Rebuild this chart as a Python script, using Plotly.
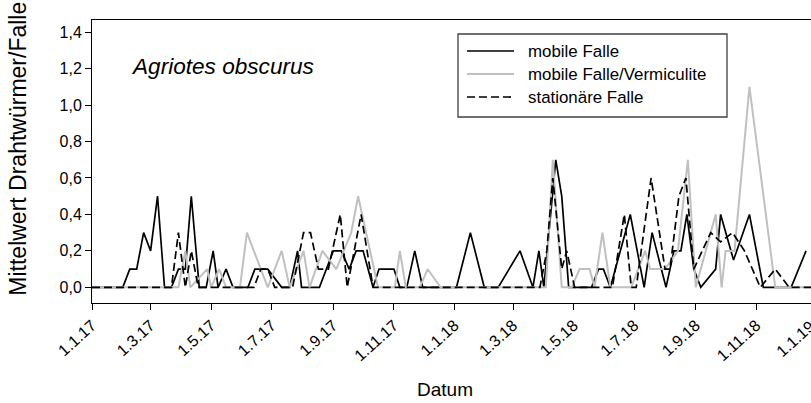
import plotly.graph_objects as go

# ---- data ----
mobile_dates = ["2017-01-01", "2017-02-01", "2017-02-08", "2017-02-15", "2017-02-22", "2017-03-01",
                "2017-03-08", "2017-03-15", "2017-03-22", "2017-03-29", "2017-04-05", "2017-04-11",
                "2017-04-19", "2017-04-26", "2017-05-03", "2017-05-08", "2017-05-16", "2017-05-23",
                "2017-06-07", "2017-06-14", "2017-06-27", "2017-07-11", "2017-07-19", "2017-07-27",
                "2017-07-31", "2017-08-18", "2017-09-01", "2017-09-09", "2017-09-17", "2017-09-24",
                "2017-10-01", "2017-10-11", "2017-10-17", "2017-11-01", "2017-11-07", "2017-11-14",
                "2017-11-22", "2017-11-30", "2018-01-03", "2018-01-17", "2018-01-31", "2018-02-14",
                "2018-03-08", "2018-03-21", "2018-03-27", "2018-04-01", "2018-04-13", "2018-04-19",
                "2018-04-26", "2018-05-19", "2018-05-26", "2018-05-31", "2018-06-07", "2018-06-27",
                "2018-07-11", "2018-07-19", "2018-08-02", "2018-08-10", "2018-08-17", "2018-08-23",
                "2018-08-30", "2018-09-06", "2018-09-21", "2018-09-26", "2018-10-09", "2018-10-25",
                "2018-11-08", "2018-12-06", "2018-12-21"]
mobile_vals = [0, 0, 0.1, 0.1, 0.3, 0.2,
               0.5, 0, 0, 0.1, 0.1, 0.5,
               0, 0, 0.2, 0, 0.1, 0,
               0, 0.1, 0.1, 0, 0, 0.2,
               0, 0, 0.2, 0.2, 0.1, 0.2,
               0.2, 0, 0.1, 0.1, 0, 0,
               0.2, 0, 0, 0.3, 0, 0,
               0.2, 0, 0.2, 0, 0.7, 0.5,
               0, 0, 0.1, 0.1, 0, 0.4,
               0, 0.3, 0, 0.2, 0.2, 0.4,
               0.1, 0, 0.1, 0.4, 0.15, 0.4,
               0, 0, 0.2]

verm_dates = ["2017-01-01", "2017-03-29", "2017-04-05", "2017-04-10", "2017-04-27", "2017-05-01",
              "2017-05-09", "2017-05-16", "2017-05-30", "2017-06-06", "2017-06-27", "2017-07-11",
              "2017-07-19", "2017-08-02", "2017-08-08", "2017-08-21", "2017-09-04", "2017-09-19",
              "2017-09-26", "2017-10-16", "2017-11-02", "2017-11-07", "2017-11-13", "2017-11-27",
              "2017-12-05", "2017-12-18", "2018-04-03", "2018-04-10", "2018-04-19", "2018-04-29",
              "2018-05-07", "2018-05-17", "2018-05-22", "2018-05-30", "2018-06-07", "2018-06-28",
              "2018-07-12", "2018-07-17", "2018-08-01", "2018-08-14", "2018-08-24", "2018-09-01",
              "2018-09-21", "2018-09-27", "2018-10-01", "2018-10-10", "2018-10-25", "2018-11-20",
              "2018-12-26"]
verm_vals = [0, 0, 0.2, 0, 0.1, 0,
             0.1, 0, 0, 0.3, 0, 0.2,
             0, 0.2, 0, 0.2, 0.1, 0.3,
             0.5, 0, 0, 0.2, 0, 0,
             0.1, 0, 0, 0.7, 0, 0,
             0.1, 0.1, 0, 0.3, 0, 0,
             0.2, 0.1, 0.1, 0.2, 0.7, 0,
             0.4, 0, 0.2, 0.2, 1.1, 0,
             0]

stat_dates = ["2017-01-01", "2017-03-22", "2017-03-29", "2017-04-05", "2017-04-11", "2017-04-18",
              "2017-06-13", "2017-06-20", "2017-06-27", "2017-07-04", "2017-07-22", "2017-08-02",
              "2017-08-09", "2017-08-17", "2017-08-27", "2017-09-08", "2017-09-15", "2017-09-29",
              "2017-10-11", "2018-03-28", "2018-04-04", "2018-04-10", "2018-04-19", "2018-04-24",
              "2018-05-02", "2018-06-09", "2018-06-21", "2018-06-28", "2018-07-03", "2018-07-18",
              "2018-08-01", "2018-08-06", "2018-08-15", "2018-08-22", "2018-08-30", "2018-09-16",
              "2018-09-26", "2018-10-08", "2018-10-20", "2018-11-05", "2018-11-20", "2018-12-04",
              "2018-12-26"]
stat_vals = [0, 0, 0.3, 0, 0.2, 0,
             0, 0.1, 0.1, 0, 0, 0.3,
             0.3, 0.1, 0.1, 0.4, 0, 0.4,
             0, 0, 0.2, 0.6, 0.1, 0.2,
             0, 0, 0.4, 0, 0, 0.6,
             0.1, 0.1, 0.5, 0.6, 0.1, 0.3,
             0.25, 0.3, 0.2, 0, 0.1, 0,
             0]

series_names = ["mobile Falle", "mobile Falle/Vermiculite", "stationäre Falle"]

tick_dates = ["2017-01-01", "2017-03-01", "2017-05-01", "2017-07-01", "2017-09-01", "2017-11-01",
              "2018-01-01", "2018-03-01", "2018-05-01", "2018-07-01", "2018-09-01", "2018-11-01"]
tick_labels = ["1.1.17", "1.3.17", "1.5.17", "1.7.17", "1.9.17", "1.11.17",
               "1.1.18", "1.3.18", "1.5.18", "1.7.18", "1.9.18", "1.11.18"]
last_tick_label = "1.1.19"
y_ticks = [0, 0.2, 0.4, 0.6, 0.8, 1.0, 1.2, 1.4]

FONT = "Arial, 'Liberation Sans', sans-serif"
W, H = 811, 403
ML, MR, MT, MB = 92, 0, 20, 100
PW, PH = W - ML - MR, H - MT - MB


def px(x):
    return (x - ML) / PW


def py(y):
    return (H - MB - y) / PH


styles = [dict(color="black", width=1.7),
          dict(color="#c0c0c0", width=2),
          dict(color="black", width=1.7, dash="8px,4px")]

fig = go.Figure()
for name, xs, ys, st in zip(series_names, [mobile_dates, verm_dates, stat_dates],
                            [mobile_vals, verm_vals, stat_vals], styles):
    fig.add_trace(go.Scatter(x=xs, y=ys, mode="lines", name=name, line=st, showlegend=False))

# legend box drawn by hand (matches reference size / spacing)
shapes = [dict(type="rect", xref="paper", yref="paper", x0=px(458), x1=px(727), y0=py(117), y1=py(34),
               line=dict(color="#404040", width=1.3), fillcolor="white", layer="above")]
annotations = []
rows = [51, 74, 97]
for name, st, ry in zip(series_names, styles, rows):
    shapes.append(dict(type="line", xref="paper", yref="paper", x0=px(467), x1=px(514),
                       y0=py(ry), y1=py(ry), line=st, layer="above"))
    annotations.append(dict(text=name, xref="paper", yref="paper", x=px(526), y=py(ry),
                            xanchor="left", yanchor="middle", showarrow=False,
                            font=dict(size=16.9, family=FONT)))

annotations += [
    dict(text="<i>Agriotes obscurus</i>", xref="paper", yref="paper", x=0.052, y=0.836,
         xanchor="left", yanchor="middle", showarrow=False, font=dict(size=22.6, family=FONT)),
    dict(text="Datum", xref="paper", yref="paper", x=0.491, y=-0.305,
         xanchor="center", yanchor="middle", showarrow=False, font=dict(size=19, family=FONT)),
    dict(text="Mittelwert Drahtwürmer/Falle", xref="paper", yref="paper", x=-0.103, y=0.545,
         xanchor="center", yanchor="middle", textangle=-90, showarrow=False,
         font=dict(size=23, family=FONT)),
    dict(text=last_tick_label, xref="paper", yref="paper", x=px(821), y=-0.04,
         xanchor="right", yanchor="top", textangle=-42, showarrow=False,
         font=dict(size=16, family=FONT)),
]

fig.update_layout(
    width=W, height=H,
    margin=dict(l=ML, r=MR, t=MT, b=MB),
    paper_bgcolor="white", plot_bgcolor="white",
    separators=",.",
    font=dict(family=FONT, color="black"),
    showlegend=False,
    xaxis=dict(type="date", range=["2017-01-01", "2018-12-26"],
               tickvals=tick_dates, ticktext=tick_labels, tickangle=-42,
               ticks="outside", ticklen=6, tickcolor="black",
               showline=True, linecolor="black", linewidth=1, mirror=True,
               showgrid=False, zeroline=False,
               tickfont=dict(size=16, family=FONT)),
    yaxis=dict(range=[-0.086, 1.467], tickvals=y_ticks, tickformat=".1f",
               ticks="outside", ticklen=6, tickcolor="black",
               showline=True, linecolor="black", linewidth=1,
               showgrid=False, zeroline=False,
               tickfont=dict(size=16, family=FONT)),
    shapes=shapes,
    annotations=annotations,
)

fig.write_html("out.html")
